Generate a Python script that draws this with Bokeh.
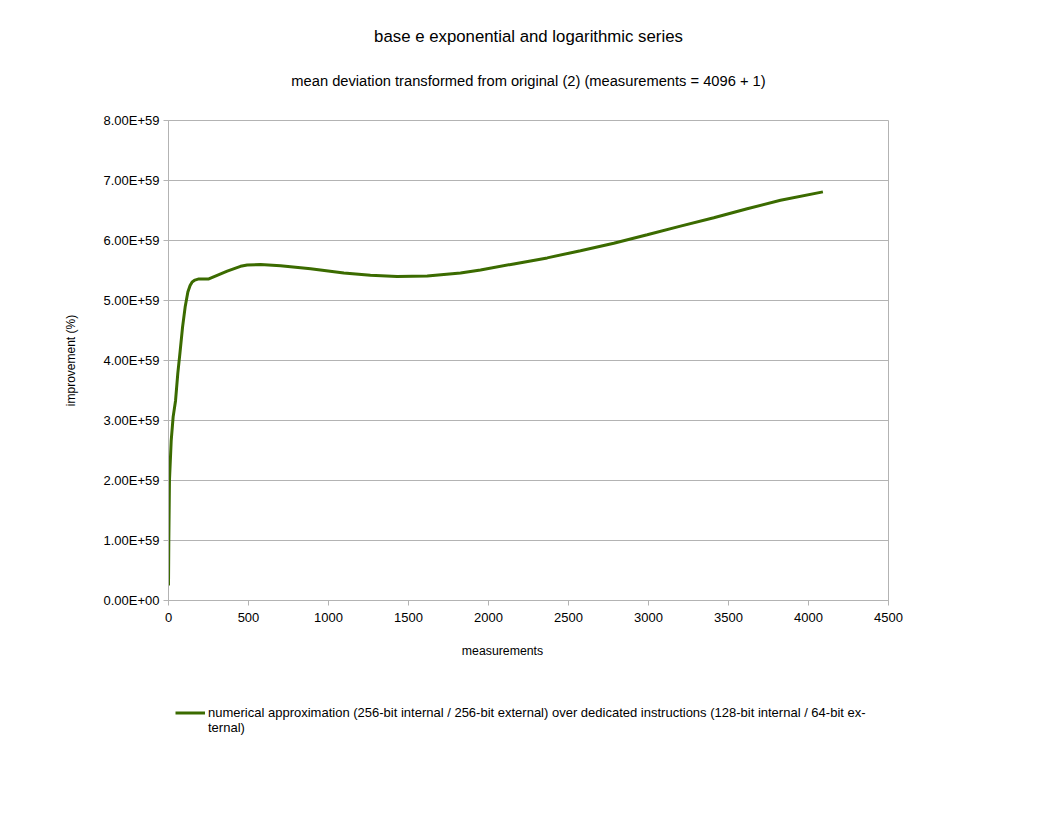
from bokeh.plotting import figure
from bokeh.models import (Label, FixedTicker, CustomJSTickFormatter, Legend, LegendItem, Range1d)
from bokeh.layouts import column
from bokeh.embed import file_html
from bokeh.resources import INLINE

title_text = "base e exponential and logarithmic series"
subtitle_text = "mean deviation transformed from original (2) (measurements = 4096 + 1)"
x_label = "measurements"
y_label = "improvement (%)"
series_name_lines = ["numerical approximation (256-bit internal / 256-bit external) over dedicated instructions (128-bit internal / 64-bit ex-",
                     "ternal)"]

measurements = [0, 2, 6, 17, 29, 44, 58, 71, 88, 104, 121, 135, 148, 165, 190, 220, 252, 304, 367,
                450, 492, 575, 700, 888, 1096, 1262, 1429, 1617, 1825, 1950, 2158, 2367, 2575,
                2783, 2992, 3200, 3408, 3617, 3825, 4090]
improvement_e59 = [0.25, 1.0, 2.0, 2.67, 3.06, 3.33, 3.78, 4.11, 4.56, 4.89, 5.14, 5.25, 5.31, 5.34,
                   5.36, 5.36, 5.36, 5.42, 5.49, 5.57, 5.59, 5.60, 5.58, 5.53, 5.46, 5.42, 5.40,
                   5.41, 5.46, 5.51, 5.61, 5.71, 5.83, 5.955, 6.095, 6.24, 6.38, 6.53, 6.67, 6.81]
improvement = [v * 1e59 for v in improvement_e59]

x_ticks = [0, 500, 1000, 1500, 2000, 2500, 3000, 3500, 4000, 4500]
y_ticks = [i * 1e59 for i in range(9)]

FONT = "Liberation Sans"
GRID = "#b3b3b3"
LINE = "#3b6b00"
W = 1056
LEFT = 168
RIGHT = 168

# ---- title strip (frame spans the same columns as the chart's frame) ----
head = figure(width=W, height=110, output_backend="svg", toolbar_location=None,
              x_range=Range1d(LEFT, W - RIGHT), y_range=Range1d(110, 0),
              x_axis_location=None, y_axis_location=None,
              min_border_left=LEFT, min_border_right=RIGHT, min_border_top=0, min_border_bottom=0)
head.outline_line_color = None
head.xgrid.visible = False
head.ygrid.visible = False
head.add_layout(Label(x=528, y=36, text=title_text, text_font=FONT, text_font_size="16.8px",
                      text_color="black", text_align="center", text_baseline="middle"))
head.add_layout(Label(x=528, y=80, text=subtitle_text, text_font=FONT, text_font_size="14.7px",
                      text_color="black", text_align="center", text_baseline="middle"))

# ---- main chart ----
p = figure(width=W, height=530, output_backend="svg", toolbar_location=None,
           x_range=Range1d(0, 4500), y_range=Range1d(0, 8e59),
           min_border_left=LEFT, min_border_right=RIGHT, min_border_top=10, min_border_bottom=40)
p.background_fill_color = "white"
p.border_fill_color = "white"
p.outline_line_color = GRID
p.outline_line_width = 1

p.line(measurements, improvement, line_color=LINE, line_width=3)

p.xaxis.ticker = FixedTicker(ticks=x_ticks)
p.yaxis.ticker = FixedTicker(ticks=y_ticks)
p.yaxis.formatter = CustomJSTickFormatter(code="""
var s = tick.toExponential(2).toUpperCase();
var parts = s.split('E');
var e = parts[1]; var sign = e[0]; var d = e.slice(1);
if (d.length < 2) { d = '0' + d; }
return parts[0] + 'E' + sign + d;
""")
for ax in (p.xaxis[0], p.yaxis[0]):
    ax.axis_line_color = GRID
    ax.major_tick_line_color = GRID
    ax.major_tick_out = 5
    ax.major_tick_in = 0
    ax.minor_tick_line_color = None
    ax.major_label_text_font = FONT
    ax.major_label_text_font_size = "13px"
    ax.major_label_text_color = "black"
    ax.axis_label_text_font = FONT
    ax.axis_label_text_font_size = "12px"
    ax.axis_label_text_font_style = "normal"
    ax.axis_label_text_color = "black"
p.xaxis.major_label_standoff = 7
p.yaxis.major_label_standoff = 4
p.yaxis.axis_label = y_label
p.yaxis.axis_label_standoff = 22

p.xgrid.grid_line_color = None
p.ygrid.grid_line_color = GRID
p.ygrid.grid_line_width = 1

# ---- x-axis title and legend strip ----
FOOT_H = 160
foot = figure(width=W, height=FOOT_H, output_backend="svg", toolbar_location=None,
              x_range=Range1d(LEFT, W - RIGHT), y_range=Range1d(FOOT_H, 0),
              x_axis_location=None, y_axis_location=None,
              min_border_left=LEFT, min_border_right=RIGHT, min_border_top=0, min_border_bottom=0)
foot.outline_line_color = None
foot.xgrid.visible = False
foot.ygrid.visible = False
foot.add_layout(Label(x=502, y=10, text=x_label, text_font=FONT, text_font_size="12.3px",
                      text_color="black", text_align="center", text_baseline="middle"))

# the legend swatch needs a renderer of the series; keep it on ranges that show none of it
foot.extra_x_ranges = {"off": Range1d(-9000, -4500)}
foot.extra_y_ranges = {"off": Range1d(-2e60, -1e60)}
swatch = foot.line(measurements, improvement, line_color=LINE, line_width=3,
                   x_range_name="off", y_range_name="off")
blank = foot.line(x=[], y=[], line_color=LINE, line_alpha=0, line_width=3)
legend = Legend(items=[LegendItem(label=series_name_lines[0], renderers=[swatch]),
                       LegendItem(label=series_name_lines[1], renderers=[blank])],
                location=(7, 65), orientation="vertical",
                label_text_font=FONT, label_text_font_size="13px", label_text_color="black",
                glyph_width=30, glyph_height=15, label_height=15, label_standoff=3,
                padding=0, margin=0, spacing=0, border_line_color=None,
                background_fill_alpha=0)
foot.add_layout(legend, "center")

layout = column(head, p, foot, spacing=0)
open("out.html", "w").write(file_html(layout, INLINE))
